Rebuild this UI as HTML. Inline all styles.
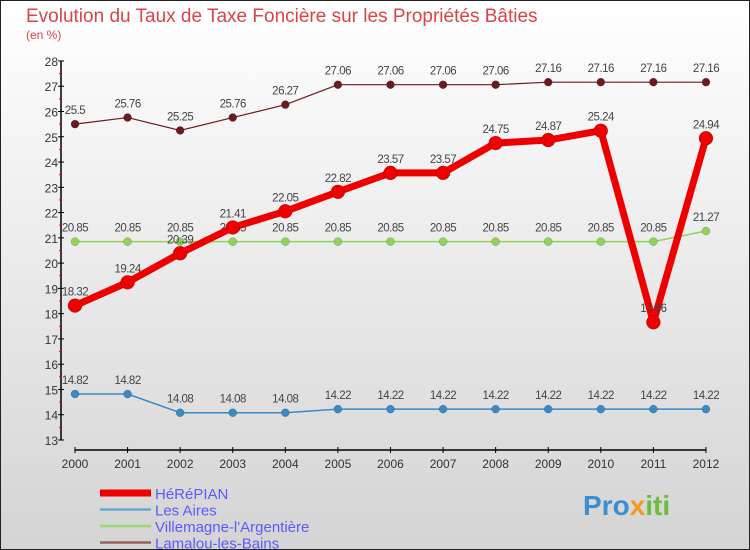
<!DOCTYPE html>
<html><head><meta charset="utf-8"><style>
body{margin:0;width:750px;height:550px;overflow:hidden;font-family:"Liberation Sans",sans-serif}
#wrap{position:absolute;left:0;top:0;width:748px;height:548px;border:1px solid #222;background:linear-gradient(#ffffff,#d4d4d4)}
</style></head><body>
<div id="wrap">
<svg id="chart" width="750" height="550" style="position:absolute;left:-1px;top:-1px">
<text x="26" y="22" font-size="19" fill="#d9444a">Evolution du Taux de Taxe Foncière sur les Propriétés Bâties</text>
<text x="26" y="39" font-size="12" fill="#d9444a">(en %)</text>
<g id="axes"></g><g id="series"></g><g id="legend"></g>
<text x="583" y="515" font-size="28" font-weight="bold" fill="#3a8fd0">Pro<tspan fill="#f29a1e">x</tspan><tspan fill="#6abf3a">iti</tspan></text>
</svg></div>
<script>
const years=[2000,2001,2002,2003,2004,2005,2006,2007,2008,2009,2010,2011,2012];
const yTicks=[13,14,15,16,17,18,19,20,21,22,23,24,25,26,27,28];
const herepian=[18.32,19.24,20.39,21.41,22.05,22.82,23.57,23.57,24.75,24.87,25.24,17.66,24.94];
const lesAires=[14.82,14.82,14.08,14.08,14.08,14.22,14.22,14.22,14.22,14.22,14.22,14.22,14.22];
const villemagne=[20.85,20.85,20.85,20.85,20.85,20.85,20.85,20.85,20.85,20.85,20.85,20.85,21.27];
const lamalou=[25.5,25.76,25.25,25.76,26.27,27.06,27.06,27.06,27.06,27.16,27.16,27.16,27.16];
const seriesNames=["HéRéPIAN","Les Aires","Villemagne-l'Argentière","Lamalou-les-Bains"];
const NS="http://www.w3.org/2000/svg";
const X=i=>75+i*52.58;
const Y=v=>440-(v-13)*25.27;
function mk(tag,attrs,parent){const e=document.createElementNS(NS,tag);for(const k in attrs)e.setAttribute(k,attrs[k]);parent.appendChild(e);return e;}
const axes=document.getElementById('axes'),ser=document.getElementById('series'),leg=document.getElementById('legend');
let a=mk('line',{x1:61,y1:Y(28),x2:61,y2:Y(13),stroke:'#000','stroke-width':1.5},axes);

a=mk('line',{x1:75,y1:450,x2:706,y2:450,stroke:'#000','stroke-width':1.5},axes);

yTicks.forEach(v=>{
 mk('line',{x1:58,y1:Y(v),x2:64,y2:Y(v),stroke:'#000'},axes);
 if(v<28)mk('line',{x1:59,y1:Y(v+0.5),x2:62,y2:Y(v+0.5),stroke:'#e00'},axes);
 const t=mk('text',{x:58,y:Y(v)+5,'font-size':12,fill:'#333','text-anchor':'end'},axes);t.textContent=v;
 
});
years.forEach((y,i)=>{
 mk('line',{x1:X(i),y1:447,x2:X(i),y2:453,stroke:'#000'},axes);
 const t=mk('text',{x:X(i),y:468,'font-size':12,fill:'#333','text-anchor':'middle'},axes);t.textContent=y;
 
});
function draw(vals,color,w,r,name,labelColor){
 const g=mk('g',{},ser);
 mk('polyline',{points:vals.map((v,i)=>X(i)+','+Y(v)).join(' '),fill:'none',stroke:color,'stroke-width':w,'stroke-linejoin':'round'},g);
 vals.forEach((v,i)=>{
  const c=mk('circle',{cx:X(i),cy:Y(v),r:r,fill:color,stroke:'rgba(0,0,0,0.3)','stroke-width':0.5},g);
  
  const t=mk('text',{x:X(i),y:Y(v)-10,'font-size':11.5,fill:'#444','text-anchor':'middle','letter-spacing':'-0.5'},g);
  t.textContent=String(v).replace(/^(\d+)\.(\d)$/,'$1.$2');
 });
}
draw(lesAires,'#3b8ac4',1.5,4,'les-aires-series');
draw(villemagne,'#8fd45a',1.5,4,'villemagne-series');
draw(lamalou,'#6b1a1f',1.2,4,'lamalou-series');
draw(herepian,'#ee0000',7,7,'herepian-series');
const lc=['#ee0000','#6aa8d0','#9ad870','#9a6060'],lw=[7,2.5,2.5,2.5];
seriesNames.forEach((n,i)=>{
 const y=493+i*16.5;
 const g=mk('g',{},leg);
 mk('line',{x1:100,y1:y,x2:151,y2:y,stroke:lc[i],'stroke-width':lw[i]},g);
 const t=mk('text',{x:155,y:y+6,'font-size':15,fill:'#5a5aff'},g);t.textContent=n;
});
</script>
</body></html>
